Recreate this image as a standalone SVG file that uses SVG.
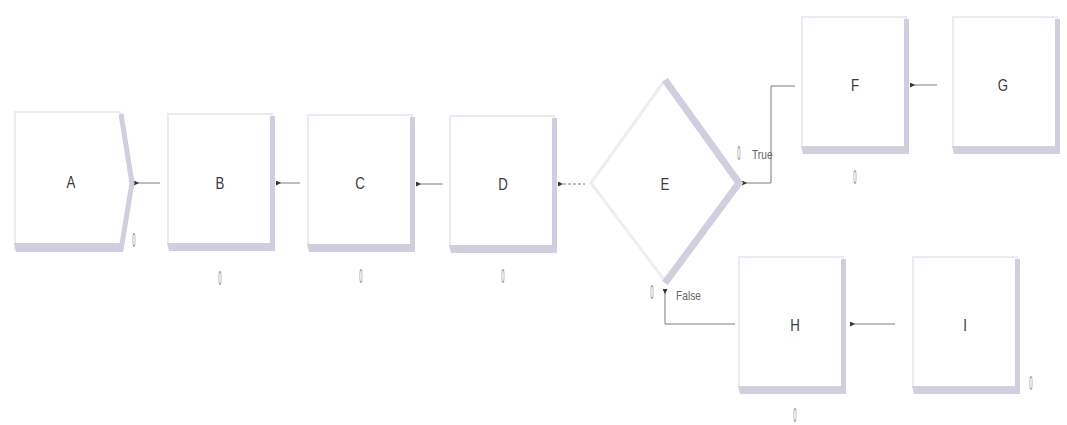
<svg xmlns="http://www.w3.org/2000/svg" width="1067" height="425" viewBox="0 0 1067 425">
  <style>
    .face { fill: #ffffff; stroke: #ebebf3; stroke-width: 2; }
    .shade { fill: #cfcfdf; }
    .lbl { font-family: "Liberation Sans", Arial, sans-serif; font-size: 17px; fill: #3a3a3a; text-anchor: middle; }
    .cnt { font-family: "Liberation Sans", Arial, sans-serif; font-size: 21px; fill: #8a8a8a; text-anchor: middle; }
    .tag { font-family: "Liberation Sans", Arial, sans-serif; font-size: 12px; fill: #666; }
    .wire { fill: none; stroke: #7a7a7a; stroke-width: 1; marker-start: url(#exit); }
  </style>
  <defs>
    <!-- exit point triangle at the start of each connector -->
    <marker id="exit" viewBox="0 0 5 5" refX="0" refY="2.5" markerWidth="5" markerHeight="5" markerUnits="userSpaceOnUse" orient="auto">
      <path d="M0,0 L5,2.5 L0,5 z" fill="#333"/>
    </marker>
    <!-- process block: white face with shaded right and bottom edges -->
    <g id="proc">
      <rect class="face" x="1" y="1" width="104" height="130"/>
      <rect class="shade" x="103" y="3" width="5" height="135"/>
      <path class="shade" d="M0,130 H108 V138 H2 Z"/>
    </g>
  </defs>

  <rect width="1067" height="425" fill="#ffffff"/>

  <!-- connectors -->
  <g id="connectors">
    <path class="wire" d="M134,183 H160"/>
    <path class="wire" d="M276,183 H300"/>
    <path class="wire" d="M416,184 H443"/>
    <path class="wire" d="M558,184 H585" stroke-dasharray="3 2"/>
    <path class="wire" d="M742,183 H771 V86 H795"/>
    <path class="wire" d="M665,289 V324 H735"/>
    <path class="wire" d="M910,85 H937"/>
    <path class="wire" d="M850,324 H895"/>
  </g>

  <!-- A: create block with chevron right side -->
  <g id="A">
    <path class="face" d="M15,112 H120 L132,183 L120,250 H15 Z"/>
    <path d="M121,114 L132,183 L121,250" fill="none" stroke="#cfcfdf" stroke-width="5"/>
    <path class="shade" d="M14,243 H123 V252 H16 Z"/>
    <text class="lbl" transform="translate(71,188) scale(0.78,1)">A</text>
    <text class="cnt" transform="translate(134,247) scale(0.28,1)">0</text>
  </g>

  <g id="B">
    <use href="#proc" x="167" y="113"/>
    <text class="lbl" transform="translate(220,189) scale(0.78,1)">B</text>
    <text class="cnt" transform="translate(220,285) scale(0.28,1)">0</text>
  </g>

  <g id="C">
    <use href="#proc" x="307" y="114"/>
    <text class="lbl" transform="translate(360,189) scale(0.78,1)">C</text>
    <text class="cnt" transform="translate(361,283) scale(0.28,1)">0</text>
  </g>

  <g id="D">
    <use href="#proc" x="449" y="115"/>
    <text class="lbl" transform="translate(503,190) scale(0.78,1)">D</text>
    <text class="cnt" transform="translate(503,283) scale(0.28,1)">0</text>
  </g>

  <!-- E: decision diamond -->
  <g id="E">
    <path d="M665,78 L740,183 L665,283 L590,183 Z" fill="#ffffff"/>
    <path d="M665,80 L591,183 L665,281" fill="none" stroke="#ededf3" stroke-width="3"/>
    <path d="M665,80 L739,183 L665,283" fill="none" stroke="#cfcfdf" stroke-width="7"/>
    <text class="lbl" transform="translate(665,190) scale(0.78,1)">E</text>
    <text class="cnt" transform="translate(739,160) scale(0.28,1)">0</text>
    <text class="tag" transform="translate(752,159) scale(0.85,1)">True</text>
    <text class="cnt" transform="translate(652,299) scale(0.28,1)">0</text>
    <text class="tag" transform="translate(676,300) scale(0.85,1)">False</text>
  </g>

  <g id="F">
    <use href="#proc" x="801" y="16"/>
    <text class="lbl" transform="translate(855,91) scale(0.78,1)">F</text>
    <text class="cnt" transform="translate(855,184) scale(0.28,1)">0</text>
  </g>

  <g id="G">
    <use href="#proc" x="952" y="16"/>
    <text class="lbl" transform="translate(1003,91) scale(0.78,1)">G</text>
  </g>

  <g id="H">
    <use href="#proc" x="738" y="256"/>
    <text class="lbl" transform="translate(795,331) scale(0.78,1)">H</text>
    <text class="cnt" transform="translate(795,422) scale(0.28,1)">0</text>
  </g>

  <g id="I">
    <use href="#proc" x="912" y="256"/>
    <text class="lbl" transform="translate(965,331) scale(0.78,1)">I</text>
    <text class="cnt" transform="translate(1031,390) scale(0.28,1)">0</text>
  </g>
</svg>
